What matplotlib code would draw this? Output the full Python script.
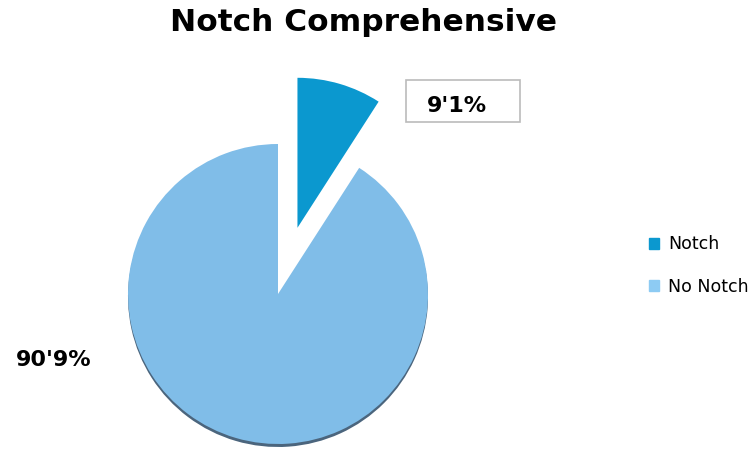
import matplotlib.pyplot as plt
from matplotlib.patches import Patch, Rectangle

# data
labels = ["Notch", "No Notch"]
values = [9.1, 90.9]
colors = ["#0b98cf", "#80bde8"]
legend_colors = ["#0b98cf", "#8dcbf3"]

W, H = 754, 450
R = 150
fig = plt.figure(figsize=(W / 100, H / 100), dpi=100)
ax = fig.add_axes([0, 0, 1, 1])

# soft shadow under the main pie
shadow, _ = ax.pie(values, radius=R, center=(278, 153), startangle=90,
                   counterclock=False, explode=[0.46 * R, 0],
                   colors=["none", "#2b4a66"], frame=True)
for w in shadow:
    w.set_alpha(0.85)

wedges, _ = ax.pie(values, radius=R, center=(278, 156), startangle=90,
                   counterclock=False, explode=[0.46 * R, 0],
                   colors=colors, frame=True)
ax.set_xlim(0, W)
ax.set_ylim(0, H)
ax.set_aspect('equal')
ax.axis('off')

def fmt(v):
    return f"{v:.1f}%".replace('.', "'")

# percentage labels
ax.add_patch(Rectangle((406, 328), 114, 42, fc='white', ec='#bbbbbb', lw=1.2))
ax.text(457, 344, fmt(values[0]), fontsize=16, fontweight='bold', ha='center', va='center')
ax.text(54, 90, fmt(values[1]), fontsize=16, fontweight='bold', ha='center', va='center')

fig.text(0.482, 0.951, "Notch Comprehensive", fontsize=22.5, fontweight='bold',
         ha='center', va='center')

handles = [Patch(color=c) for c in legend_colors]
fig.legend(handles, labels, loc='center left', bbox_to_anchor=(0.84, 0.41),
           frameon=False, fontsize=12.5, handlelength=0.6, handleheight=0.6,
           handletextpad=0.5, labelspacing=1.4)

fig.savefig("out.png", dpi=100)
